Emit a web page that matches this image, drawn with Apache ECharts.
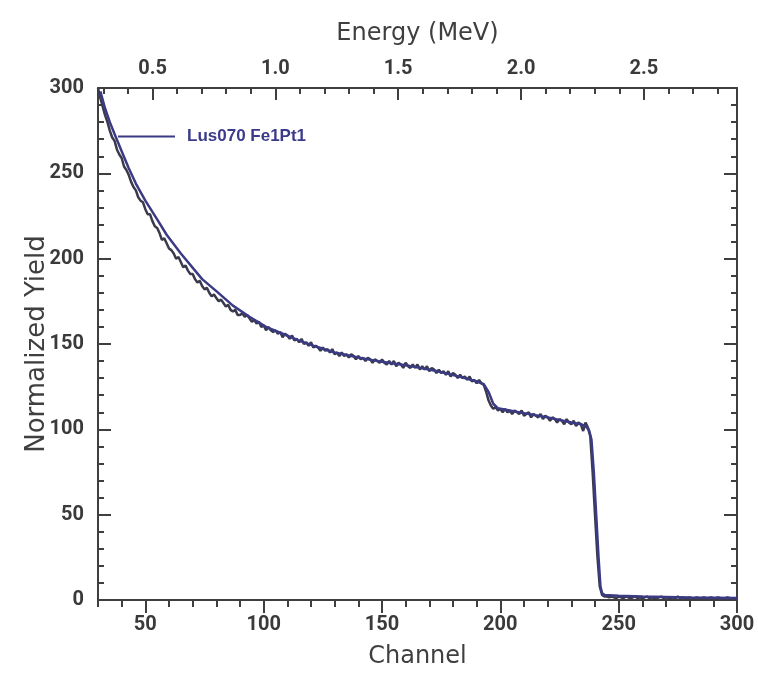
<!DOCTYPE html>
<html><head><meta charset="utf-8">
<script src="https://cdn.jsdelivr.net/npm/echarts@6/dist/echarts.min.js"></script>
<style>html,body{margin:0;padding:0;background:#fff}#c{width:758px;height:676px}</style>
</head><body><div id="c"></div>
<script>
// ---- data ----
const channelStart = 30; // first channel of the measured spectrum (one value per channel)
const measuredYield = [
  300,294,289,284,280,275,271,269,264,261,
  259,254,252,249,245,242,240,236,234,233,
  229,226,226,222,219,218,215,211,212,209,
  206,205,203,200,201,198,195,196,193,191,
  191,188,186,187,184,182,183,180,178,179,
  177,175,176,174,172,173,170,169,170,167,
  167,168,166,167,165,163,164,162,163,160,
  161,158,160,158,157,158,156,157,154,156,
  155,153,155,152,153,151,153,150,151,149,
  151,148,149,148,146,148,146,147,145,147,
  144,145,143,145,143,144,142,144,143,141,
  143,141,142,140,142,141,139,141,140,139,
  141,139,138,140,138,140,137,139,138,136,
  139,137,136,138,136,138,135,137,135,137,
  134,136,135,133,135,133,134,132,134,131,
  133,132,130,132,130,131,129,131,128,129,
  127,129,127,126,122,117,114,112,113,111,
  112,110,112,110,111,109,111,110,109,111,
  108,109,110,107,109,108,107,109,106,108,
  107,105,107,106,104,106,105,103,106,104,
  103,105,102,104,103,99,104,101,96,75,
  50,26,8,3,2,2,1.5,2,1.5,1,
  2,1.5,1,2,1.5,1,1.5,2,1,1.5,
  1,1.5,2,1,1.5,1,1,1.5,2,1,
  1.5,1,1,1.5,1,2,1,1.5,1,1,
  1.5,1,1,1.5,1,1,1.5,1,1,1.5,
  1,1,1.5,1,1,1,1.5,1,1,1,
  1
];
const simChannels = [31,33,35,37,40,43,46,50,55,59,65,74,80,87,94,101,108,115,122,130,137,144,152,160,166,172,178,185,190,193,195,197,199,205,210,215,220,225,230,234,236,237.5,238.5,239.5,240.5,241.5,242.3,243,244,250,260,280,300];
const simYield    = [298,288,280,273,263,253,244,234,223,214,203,188,181,172.5,166,160,156,152,148.5,145,143,141,139.2,137.5,136,134.5,132.5,130,128,126.5,122,115,112.3,110.8,109.5,108.2,107,105.5,104,103,102,99.5,94,75,50,25,8,4,3,2.5,2,1.5,1.2];
const simName = 'Lus070 Fe1Pt1';

const channelTicks = [50,100,150,200,250,300];
const energyTicks = [0.5,1.0,1.5,2.0,2.5];
const yieldMin = 0, yieldMax = 300, yieldStep = 50;
const channelMin = 30, channelMax = 300;
const energyAtMin = 0.278, energyAtMax = 2.879; // energy calibration at channel 30 / 300

// ---- build ----
const channelMinor = [];
for (let v = 30; v <= 300; v += 10) if (v % 50 !== 0) channelMinor.push(v);
const energyMinor = [];
for (let k = 3; k <= 28; k++) if (k % 5 !== 0) energyMinor.push(k / 10);

const measuredPairs = measuredYield.map((v, i) => [channelStart + i, v]);
const simPairs = simChannels.map((c, i) => [c, simYield[i]]);

const axisColor = '#3f3f3f';
const tickFont = { fontFamily: 'Roboto, "Liberation Sans", sans-serif', fontWeight: 'bold', fontSize: 20, color: '#3a3a3a' };
const nameFont = { fontFamily: '"DejaVu Sans", sans-serif', fontSize: 24, color: '#3f3f3f' };
const lineSty = { color: axisColor, width: 2 };

const chart = echarts.init(document.getElementById('c'), null, { renderer: 'canvas' });
chart.setOption({
  animation: false,
  backgroundColor: '#ffffff',
  grid: { left: 98, right: 21, top: 88, bottom: 76, containLabel: false },
  legend: {
    data: [simName], left: 118, top: 128, padding: 0,
    icon: 'rect', itemWidth: 57, itemHeight: 2,
    textStyle: { fontFamily: '"Liberation Sans", Arial, sans-serif', fontWeight: 'bold', fontSize: 17, color: '#3b3b8a', padding: [0, 0, 0, 7] }
  },
  xAxis: [
    { type: 'value', position: 'bottom', min: channelMin, max: channelMax,
      axisLine: { show: true, lineStyle: lineSty },
      axisTick: { show: true, customValues: channelTicks, length: 13, lineStyle: lineSty },
      axisLabel: { show: true, customValues: channelTicks, margin: 15, ...tickFont },
      splitLine: { show: false },
      name: 'Channel', nameLocation: 'middle', nameGap: 45, nameTextStyle: nameFont },
    { type: 'value', position: 'bottom', min: channelMin, max: channelMax,
      axisLine: { show: false },
      axisTick: { show: true, customValues: channelMinor, length: 7, lineStyle: lineSty },
      axisLabel: { show: false }, splitLine: { show: false } },
    { type: 'value', position: 'top', min: energyAtMin, max: energyAtMax,
      axisLine: { show: true, lineStyle: lineSty },
      axisTick: { show: true, inside: true, customValues: energyTicks, length: 12, lineStyle: lineSty },
      axisLabel: { show: true, customValues: energyTicks, margin: 9, formatter: v => Number(v).toFixed(1), ...tickFont },
      splitLine: { show: false },
      name: 'Energy (MeV)', nameLocation: 'middle', nameGap: 42, nameTextStyle: nameFont },
    { type: 'value', position: 'top', min: energyAtMin, max: energyAtMax,
      axisLine: { show: false },
      axisTick: { show: true, inside: true, customValues: energyMinor, length: 6, lineStyle: lineSty },
      axisLabel: { show: false }, splitLine: { show: false } }
  ],
  yAxis: [
    { type: 'value', position: 'left', min: yieldMin, max: yieldMax, interval: yieldStep,
      axisLine: { show: true, lineStyle: lineSty },
      axisTick: { show: true, inside: true, length: 13, lineStyle: lineSty },
      minorTick: { show: true, splitNumber: 5, length: 6, lineStyle: lineSty },
      axisLabel: { show: true, margin: 14, ...tickFont },
      splitLine: { show: false }, minorSplitLine: { show: false },
      name: 'Normalized Yield', nameLocation: 'middle', nameGap: 48, nameRotate: 90, nameMoveOverlap: false,
      nameTextStyle: Object.assign({}, nameFont, { fontSize: 26 }) },
    { type: 'value', position: 'right', min: yieldMin, max: yieldMax, interval: yieldStep,
      axisLine: { show: true, lineStyle: lineSty },
      axisTick: { show: true, inside: true, length: 13, lineStyle: lineSty },
      minorTick: { show: true, splitNumber: 5, length: 6, lineStyle: lineSty },
      axisLabel: { show: false },
      splitLine: { show: false }, minorSplitLine: { show: false } }
  ],
  series: [
    { name: 'measured', type: 'line', xAxisIndex: 0, yAxisIndex: 0, data: measuredPairs,
      symbol: 'none', showSymbol: false, lineStyle: { color: '#3a3a4c', width: 2.5 }, itemStyle: { color: '#3a3a4c' }, z: 3 },
    { name: simName, type: 'line', xAxisIndex: 0, yAxisIndex: 0, data: simPairs,
      symbol: 'none', showSymbol: false, lineStyle: { color: '#3b3b85', width: 2.5 }, itemStyle: { color: '#3b3b85' }, z: 4 }
  ]
});
</script></body></html>
